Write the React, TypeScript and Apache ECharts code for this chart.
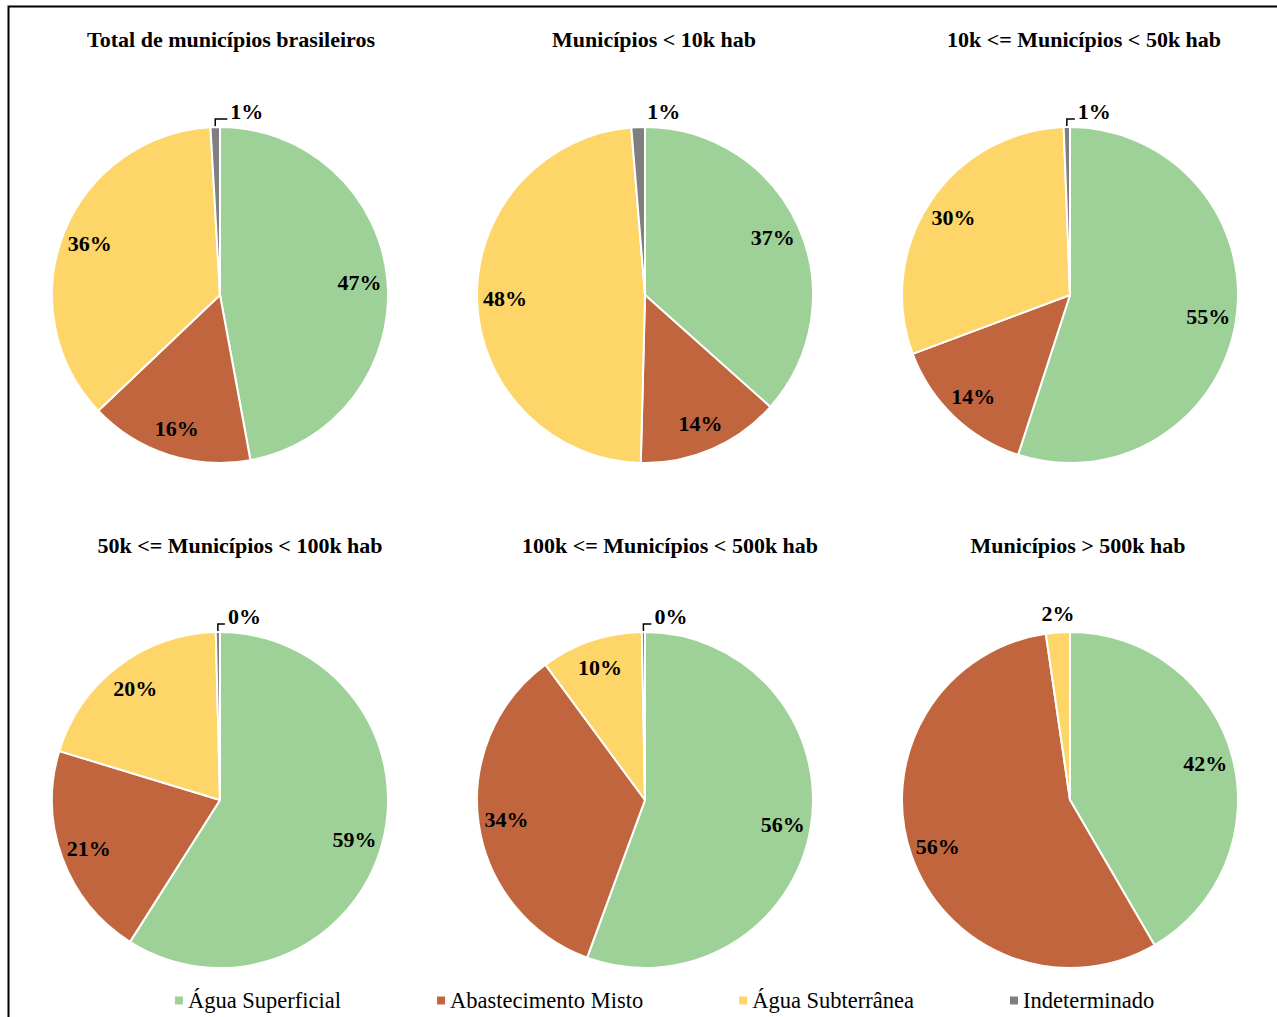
import React, { useEffect, useRef } from "react";
import * as echarts from "echarts";

const categories = ["Água Superficial", "Abastecimento Misto", "Água Subterrânea", "Indeterminado"];
const colors = ["#9DD197", "#C0653E", "#FDD569", "#7F7F7F"];

const titles = [
  "Total de municípios brasileiros",
  "Municípios < 10k hab",
  "10k <= Municípios < 50k hab",
  "50k <= Municípios < 100k hab",
  "100k <= Municípios < 500k hab",
  "Municípios > 500k hab",
];

// shares (%) per group, in the order of `categories`
const totalBrasil = [47.1, 15.8, 36.2, 0.9];
const menos10k = [36.6, 13.8, 48.3, 1.3];
const de10a50k = [55.0, 14.3, 30.1, 0.6];
const de50a100k = [59.0, 20.7, 19.9, 0.4];
const de100a500k = [55.6, 34.3, 9.8, 0.3];
const mais500k = [41.6, 56.1, 2.3, 0];

const groups = [totalBrasil, menos10k, de10a50k, de50a100k, de100a500k, mais500k];

// layout
const centers = [
  [220, 295],
  [645, 295],
  [1070, 295],
  [220, 800],
  [645, 800],
  [1070, 800],
];
const titlePos = [
  [231, 39],
  [654, 39],
  [1084, 39],
  [240, 545],
  [670, 545],
  [1078, 545],
];
const smallLabel = [
  { idx: 3, mode: "line", len: 12 },
  { idx: 3, mode: "plain", len: 8 },
  { idx: 3, mode: "line", len: 8 },
  { idx: 3, mode: "line", len: 7 },
  { idx: 3, mode: "line", len: 8 },
  { idx: 2, mode: "above", len: 0 },
];
const R = 168;
const FONT = "'Liberation Serif', 'Times New Roman', serif";

export default function App() {
  const ref = useRef<HTMLDivElement>(null);
  useEffect(() => {
    document.body.style.margin = "0";
    if (!ref.current) return;
    const chart = echarts.init(ref.current, null, { renderer: "svg" });

    const mainSeries: any[] = [];
    const labelSeries: any[] = [];
    groups.forEach((vals, g) => {
      const items = categories
        .map((name, i) => ({ name, value: vals[i], i }))
        .filter((d) => d.value > 0);
      mainSeries.push({
        type: "pie",
        center: centers[g],
        radius: [0, R],
        startAngle: 90,
        clockwise: true,
        silent: true,
        label: { show: false },
        labelLine: { show: false },
        emphasis: { disabled: true },
        data: items.map((d) => ({
          name: d.name,
          value: d.value,
          itemStyle: { color: colors[d.i], borderColor: "#fff", borderWidth: 2 },
        })),
      });
      const sl = smallLabel[g];
      labelSeries.push({
        type: "pie",
        center: centers[g],
        radius: [106, R],
        startAngle: 90,
        clockwise: true,
        silent: true,
        avoidLabelOverlap: false,
        legendHoverLink: false,
        emphasis: { disabled: true },
        itemStyle: { color: "rgba(0,0,0,0)", borderWidth: 0 },
        label: {
          show: true,
          position: "inside",
          color: "#000",
          fontSize: 22,
          fontWeight: "bold",
          fontFamily: FONT,
          formatter: (p: any) => Math.round(p.percent) + "%",
        },
        labelLine: { show: false, lineStyle: { color: "#000", width: 1.5 } },
        labelLayout: (p: any) => {
          if (p.dataIndex !== sl.idx) return {};
          const r = p.rect;
          const px = r.x + r.width / 2;
          const py = r.y;
          if (sl.mode === "above") {
            return { x: px, y: py - 19, align: "center", verticalAlign: "middle" };
          }
          if (sl.mode === "plain") {
            return { x: px + 9, y: py - 15.5, align: "left", verticalAlign: "middle" };
          }
          return {
            x: px + sl.len + 3,
            y: py - 15.5,
            align: "left",
            verticalAlign: "middle",
            labelLinePoints: [
              [px, py],
              [px, py - 8],
              [px + sl.len, py - 8],
            ],
          };
        },
        data: items.map((d, k) => ({
          name: d.name,
          value: d.value,
          label: k === sl.idx ? { position: "outside" } : { position: "inside" },
          labelLine: k === sl.idx && sl.mode === "line" ? { show: true, length: 6, length2: 10 } : { show: false },
        })),
      });
    });

    const graphics: any[] = [
      {
        type: "rect",
        shape: { x: 8.5, y: 6.5, width: 1400, height: 1200 },
        style: { fill: "none", stroke: "#000", lineWidth: 2 },
        silent: true,
      },
      ...titles.map((t, i) => ({
        type: "text",
        x: titlePos[i][0],
        y: titlePos[i][1],
        style: {
          text: t,
          fontSize: 22,
          fontWeight: "bold",
          fontFamily: FONT,
          fill: "#000",
          align: "center",
          verticalAlign: "middle",
        },
      })),
    ];

    chart.setOption({
      animation: false,
      backgroundColor: "#fff",
      legend: {
        data: categories,
        left: 175,
        top: 989,
        padding: 0,
        icon: "rect",
        itemWidth: 8,
        itemHeight: 8,
        itemGap: 96,
        selectedMode: false,
        itemStyle: { borderWidth: 0 },
        textStyle: { fontSize: 22.5, color: "#000", fontFamily: FONT },
      },
      graphic: graphics,
      series: [...mainSeries, ...labelSeries],
    });
    return () => chart.dispose();
  }, []);
  return <div ref={ref} style={{ width: 1277, height: 1017 }} />;
}
